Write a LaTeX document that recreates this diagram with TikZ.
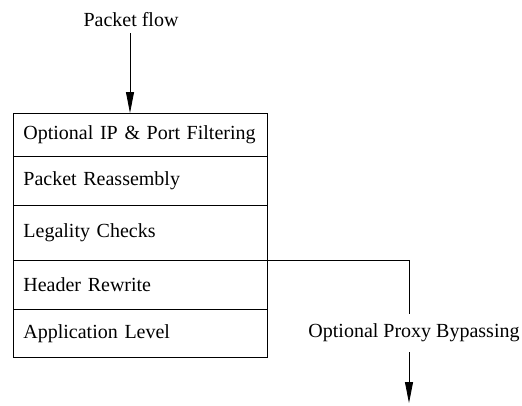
\documentclass[tikz,border=0pt]{standalone}
\usepackage{fontspec}
\setmainfont{Liberation Serif}
\usetikzlibrary{arrows.meta}
\begin{document}
\begin{tikzpicture}[x=1pt,y=-1pt,
  lbl/.style={font=\fontsize{20}{24}\selectfont, inner sep=0pt},
  row/.style={draw, line width=0.8pt, anchor=north west, minimum width=254pt,
    text width=234pt, align=left, inner xsep=10pt, inner ysep=0pt,
    font=\fontsize{20}{24}\selectfont},
  conn/.style={line width=0.8pt},
  arr/.style={line width=0.8pt, -{Triangle[length=21pt,width=8pt]}}]
\useasboundingbox (0,0) rectangle (522,405);
\node[lbl] (pf) at (131,20) {Packet flow};
\node[row, minimum height=43pt] (r1) at (13,113) {Optional IP \& Port Filtering};
\node[row, minimum height=49pt] (r2) at (13,156) {Packet Reassembly};
\node[row, minimum height=55pt] (r3) at (13,205) {Legality Checks};
\node[row, minimum height=49pt] (r4) at (13,260) {Header Rewrite};
\node[row, minimum height=48pt] (r5) at (13,309) {Application Level};
\node[lbl] (bp) at (414,333) {Optional Proxy Bypassing};
\coordinate (pfa) at (130,33);
\coordinate (bt) at (409,314);
\coordinate (bs) at (409,352);
\coordinate (be) at (409,403);
\draw[arr] (pfa) -- (pfa |- r1.north);
\draw[conn] (r3.south east) -| (bt);
\draw[arr] (bs) -- (be);
\end{tikzpicture}
\end{document}
